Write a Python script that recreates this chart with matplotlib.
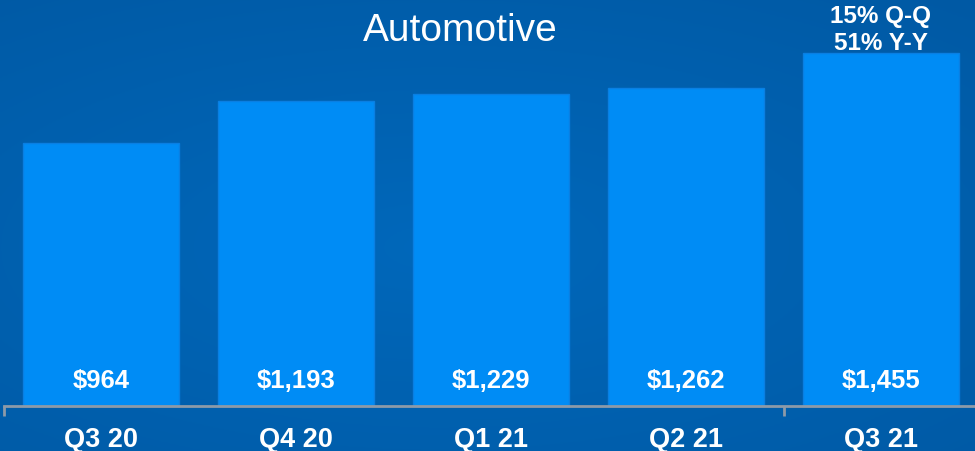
import numpy as np
import matplotlib.pyplot as plt

# ==========================================================
# DATA
# ==========================================================

quarters = ["Q3 20", "Q4 20", "Q1 21", "Q2 21", "Q3 21"]
revenue = [964, 1193, 1229, 1262, 1455]
value_labels = ["$964", "$1,193", "$1,229", "$1,262", "$1,455"]
growth_note = ["15% Q-Q", "51% Y-Y"]

TITLE = "Automotive"
BASE = -458  # visual baseline of the slide's bars
TOP = 1746

# ==========================================================
# STYLE
# ==========================================================

plt.rcParams["font.family"] = ["Liberation Sans", "DejaVu Sans"]

BAR_COLOR = "#008cf5"
BAR_EDGE = "#0a7fe2"
AXIS_COLOR = "#8d9aa8"

fig = plt.figure(figsize=(9.75, 4.52), dpi=100)

# gradient background
bg = fig.add_axes([0, 0, 1, 1])
yy, xx = np.mgrid[0:1:200j, 0:1:400j]
r = np.sqrt(((xx - 0.45) / 0.9) ** 2 + ((yy - 0.55) / 0.8) ** 2)
c_in = np.array([0x00, 0x68, 0xbb]) / 255
c_out = np.array([0x00, 0x58, 0xa2]) / 255
t = np.clip(r, 0, 1)[..., None]
bg.imshow(c_in * (1 - t) + c_out * t, aspect="auto", extent=[0, 1, 0, 1])
bg.axis("off")

ax = fig.add_axes([0, 45 / 452, 1, 407 / 452])
ax.patch.set_alpha(0)

x = np.arange(len(quarters))
heights = [v - BASE for v in revenue]

ax.bar(x, heights, bottom=BASE, width=0.8, color=BAR_COLOR,
       edgecolor=BAR_EDGE, linewidth=1.0, zorder=2)

for xi, lab in zip(x, value_labels):
    ax.text(xi, BASE + 140, lab, ha="center", va="center",
            color="white", fontsize=18.5, fontweight="bold", zorder=3)

ax.set_xlim(-0.52, 4.48)
ax.set_ylim(BASE, TOP)

# axis line and ticks at category boundaries
for s in ["top", "right", "left"]:
    ax.spines[s].set_visible(False)
ax.spines["bottom"].set_color(AXIS_COLOR)
ax.spines["bottom"].set_linewidth(2)
ax.spines["bottom"].set_bounds(-0.5, 4.48)
ax.set_yticks([])
ax.set_xticks([-0.5, 3.5])
ax.set_xticklabels([])
ax.tick_params(axis="x", length=7, width=2, color=AXIS_COLOR)

# category labels below the axis line
ax_to_fig = ax.transData + fig.transFigure.inverted()
for xi, q in zip(x, quarters):
    fx = ax_to_fig.transform((xi, 0))[0]
    fig.text(fx, 1 - 440 / 452, q, ha="center", va="center",
             color="white", fontsize=19.5, fontweight="bold")

fig.text(460 / 975, 1 - 31 / 452, TITLE, ha="center", va="center",
         color="white", fontsize=28)

fig.text(881 / 975, 1 - 16 / 452, growth_note[0], ha="center", va="center",
         color="white", fontsize=17.5, fontweight="bold")
fig.text(881 / 975, 1 - 44 / 452, growth_note[1], ha="center", va="center",
         color="white", fontsize=17.5, fontweight="bold")

# ==========================================================
# SAVE
# ==========================================================

fig.savefig("out.png", dpi=100)
